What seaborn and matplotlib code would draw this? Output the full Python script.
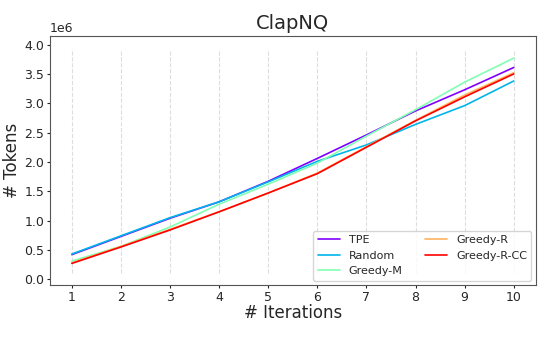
import numpy as np
import pandas as pd
import matplotlib
matplotlib.use("Agg")
import matplotlib.pyplot as plt
import seaborn as sns

iterations = [1, 2, 3, 4, 5, 6, 7, 8, 9, 10]
methods = ["TPE", "Random", "Greedy-M", "Greedy-R", "Greedy-R-CC"]
tpe = [0.42, 0.73, 1.04, 1.32, 1.67, 2.06, 2.46, 2.87, 3.23, 3.61]
random_ = [0.43, 0.74, 1.05, 1.32, 1.66, 2.01, 2.29, 2.64, 2.96, 3.38]
greedy_m = [0.31, 0.56, 0.89, 1.28, 1.62, 1.98, 2.44, 2.89, 3.36, 3.77]
greedy_r = [0.28, 0.56, 0.85, 1.15, 1.47, 1.81, 2.26, 2.71, 3.14, 3.52]
greedy_r_cc = [0.27, 0.55, 0.84, 1.15, 1.47, 1.80, 2.25, 2.70, 3.11, 3.50]

series = [tpe, random_, greedy_m, greedy_r, greedy_r_cc]
df = pd.DataFrame({
    "iter": iterations * len(methods),
    "tokens": np.concatenate(series) * 1e6,
    "method": np.repeat(methods, len(iterations)),
})

sns.set_style("white")
colors = plt.cm.rainbow(np.linspace(0, 1, len(methods)))
palette = dict(zip(methods, colors))

fig = plt.figure(figsize=(5.53, 3.37), dpi=100)
ax = fig.add_axes([0.090, 0.154, 0.879, 0.738])

for x in iterations:
    ax.axvline(x, ymin=0.05, ymax=0.95, color="#dddddd", linestyle="--", linewidth=0.8, zorder=0)

sns.lineplot(data=df, x="iter", y="tokens", hue="method", palette=palette,
             linewidth=1.2, ax=ax)

ax.set_ylim(-0.1e6, 4.14e6)
ax.set_xticks(iterations)
ax.set_yticks(np.arange(0, 4.01e6, 0.5e6))
ax.ticklabel_format(axis="y", style="sci", scilimits=(6, 6))
ax.tick_params(axis="both", labelsize=9, length=2.5, pad=1.5, bottom=True, left=True)
ax.yaxis.get_offset_text().set_fontsize(9)
for s in ax.spines.values():
    s.set_color("#555555")
    s.set_linewidth(0.8)

ax.set_title("ClapNQ", fontsize=14, pad=5)
ax.set_xlabel("# Iterations", fontsize=12, labelpad=0)
ax.set_ylabel("# Tokens", fontsize=12, labelpad=2)
ax.legend(loc="lower right", ncol=2, fontsize=8, frameon=True, title=None,
          borderaxespad=0.4)

fig.savefig("out.png", dpi=100)
